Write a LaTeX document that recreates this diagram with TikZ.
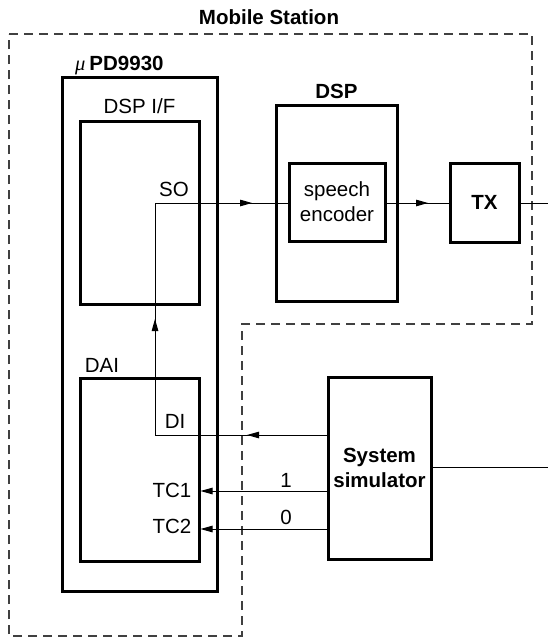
\documentclass[tikz,border=0pt]{standalone}
\usepackage{fontspec}
\setmainfont{Liberation Sans}
\newfontfamily\mufont{Liberation Serif}
\usetikzlibrary{arrows.meta,decorations.markings}
\begin{document}
\begin{tikzpicture}[x=1pt,y=-1pt,
  box/.style={draw, line width=3pt, inner sep=0pt},
  lbl/.style={inner sep=0pt, font=\fontsize{20.5}{25}\selectfont, align=center},
  blbl/.style={inner sep=0pt, font=\fontsize{20.5}{25}\selectfont\bfseries, align=center},
  conn/.style={line width=1pt},
  tip/.style={-{Triangle[length=12pt,width=6.5pt]}},
  region/.style={line width=1.3pt, dash pattern=on 9pt off 6pt, draw=black!75}
]
\useasboundingbox (0,0) rectangle (548,637);

% dashed Mobile Station region
\draw[region] (9,34) -- (532,34) -- (532,324) -- (242,324) -- (242,636) -- (9,636) -- cycle;

% boxes
\node[box, minimum width=155pt, minimum height=514pt] (pd) at (140,334) {};
\node[box, minimum width=119pt, minimum height=183pt] (dspif) at (139.5,212.5) {};
\node[box, minimum width=119pt, minimum height=183pt] (dai) at (139.5,469.5) {};
\node[box, minimum width=121pt, minimum height=196pt] (dsp) at (336.5,203) {};
\node[box, lbl, minimum width=96pt, minimum height=78pt] (enc) at (337,202) {speech\\encoder};
\node[box, blbl, minimum width=69pt, minimum height=79pt] (tx) at (484.5,202.5) {TX};
\node[box, blbl, minimum width=103pt, minimum height=182pt] (sim) at (379.5,468) {System\\simulator};

% labels
\node[blbl] (title) at (269,17) {Mobile Station};
\node[lbl, anchor=base west] (pdlbl) at (75,70) {{\mufont\itshape μ}\hspace{4pt}\textbf{PD9930}};
\node[lbl] (dspiflbl) at (139.5,106) {DSP I/F};
\node[blbl] (dsplbl) at (336.5,91) {DSP};
\node[lbl] (so) at (174,189) {SO};
\node[lbl] (dailbl) at (102,365) {DAI};
\node[lbl] (di) at (175,421) {DI};
\node[lbl] (tc1) at (172,490) {TC1};
\node[lbl] (tc2) at (172,526) {TC2};
\node[lbl] (one) at (286,480) {1};
\node[lbl] (zero) at (286,517) {0};

% helper coordinates
\coordinate (c1) at (155,435);
\coordinate (c2) at (155,203);
\coordinate (t1) at (0,491);
\coordinate (t2) at (0,529);
\coordinate (txout) at (548,203);
\coordinate (simout) at (548,467);

% connectors
\draw[conn, postaction={decorate}, decoration={markings,
   mark=at position 79.5pt with {\arrow{Triangle[length=12pt,width=6.5pt]}},
   mark=at position 287.5pt with {\arrow{Triangle[length=12pt,width=6.5pt]}},
   mark=at position 500.5pt with {\arrow{Triangle[length=12pt,width=6.5pt]}}}]
  (sim.west |- c1) -- (c1) -- (c2) -- (enc.west |- c2);
\draw[conn, postaction={decorate}, decoration={markings,
   mark=at position 41.5pt with {\arrow{Triangle[length=12pt,width=6.5pt]}}}]
  (enc.east |- c2) -- (tx.west |- c2);
\draw[conn] (tx.east |- txout) -- (txout);
\draw[conn] (sim.east |- simout) -- (simout);
\draw[conn, tip] (sim.west |- t1) -- (dai.east |- t1);
\draw[conn, tip] (sim.west |- t2) -- (dai.east |- t2);
\end{tikzpicture}
\end{document}
